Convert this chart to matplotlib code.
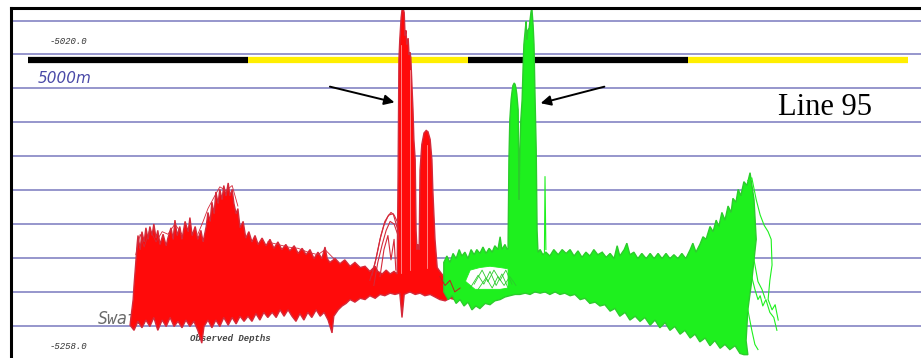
import numpy as np
import matplotlib.pyplot as plt
from matplotlib.lines import Line2D

# Port swath (red): along-track distance in km, depth in m
red_top_km = [2.34, 2.39, 2.41, 2.45, 2.48, 2.50, 2.55, 2.59, 2.64, 2.68, 2.73, 2.77, 2.82, 2.86,
              2.91, 2.95, 3.00, 3.07, 3.14, 3.18, 3.25, 3.30, 3.34, 3.39, 3.45, 3.50, 3.57, 3.64,
              3.68, 3.73, 3.80, 3.86, 3.93, 3.98, 4.05, 4.09, 4.14, 4.18, 4.23, 4.27, 4.32, 4.36,
              4.41, 4.45, 4.50, 4.55, 4.59, 4.64, 4.68, 4.73, 4.77, 4.82, 4.89, 4.95, 5.02, 5.09,
              5.16, 5.23, 5.32, 5.41, 5.50, 5.59, 5.68, 5.77, 5.86, 5.95, 6.05, 6.14, 6.23, 6.32,
              6.41, 6.50, 6.59, 6.68, 6.75, 6.80, 6.86, 6.98, 7.09, 7.20, 7.32, 7.43, 7.55, 7.66,
              7.77, 7.89, 7.95, 8.05, 8.14, 8.23, 8.32, 8.39, 8.41, 8.43, 8.45, 8.48, 8.50, 8.52,
              8.55, 8.57, 8.59, 8.61, 8.64, 8.66, 8.68, 8.70, 8.73, 8.75, 8.77, 8.80, 8.82, 8.84,
              8.86, 8.89, 8.91, 8.95, 9.00, 9.05, 9.09, 9.14, 9.18, 9.20, 9.25, 9.30, 9.36, 9.45,
              9.55, 9.64, 9.70, 9.77, 9.82]
red_top_z = [-5235, -5221, -5210, -5192, -5178, -5171, -5182, -5168, -5176, -5165, -5174, -5164,
             -5171, -5162, -5173, -5167, -5178, -5170, -5179, -5173, -5165, -5174, -5159, -5171,
             -5164, -5174, -5160, -5168, -5157, -5171, -5164, -5174, -5167, -5176, -5164, -5153,
             -5160, -5145, -5154, -5137, -5146, -5135, -5143, -5132, -5140, -5130, -5140, -5135,
             -5146, -5154, -5150, -5165, -5160, -5173, -5168, -5176, -5171, -5178, -5173, -5179,
             -5174, -5181, -5176, -5182, -5178, -5183, -5179, -5185, -5181, -5186, -5182, -5189,
             -5184, -5189, -5180, -5189, -5192, -5189, -5193, -5190, -5195, -5192, -5196, -5195,
             -5199, -5195, -5199, -5201, -5198, -5201, -5199, -5201, -5128, -5034, -5018, -5001,
             -4995, -4993, -4997, -5015, -5011, -5022, -5017, -5030, -5028, -5032, -5057, -5073,
             -5096, -5112, -5167, -5182, -5178, -5182, -5120, -5100, -5091, -5089, -5090, -5096,
             -5112, -5135, -5174, -5196, -5199, -5203, -5204, -5207, -5212, -5217, -5221]
red_bot_km = [2.32, 2.41, 2.50, 2.59, 2.68, 2.77, 2.86, 2.95, 3.05, 3.14, 3.23, 3.32, 3.41, 3.50,
              3.59, 3.68, 3.77, 3.86, 3.95, 4.00, 4.09, 4.18, 4.27, 4.36, 4.45, 4.55, 4.64, 4.73,
              4.82, 4.91, 5.00, 5.09, 5.18, 5.27, 5.36, 5.45, 5.55, 5.64, 5.73, 5.82, 5.91, 6.00,
              6.09, 6.18, 6.27, 6.36, 6.45, 6.55, 6.64, 6.73, 6.82, 6.91, 6.95, 7.05, 7.14, 7.23,
              7.32, 7.43, 7.55, 7.66, 7.77, 7.89, 8.00, 8.11, 8.23, 8.34, 8.45, 8.50, 8.55, 8.68,
              8.80, 8.91, 9.02, 9.14, 9.25, 9.36, 9.48, 9.59, 9.70, 9.82]
red_bot_z = [-5241, -5245, -5238, -5243, -5237, -5242, -5235, -5245, -5237, -5242, -5235, -5242,
             -5238, -5243, -5237, -5242, -5238, -5245, -5255, -5242, -5237, -5243, -5237, -5242,
             -5235, -5241, -5235, -5240, -5234, -5238, -5234, -5238, -5232, -5237, -5231, -5235,
             -5231, -5235, -5229, -5234, -5229, -5234, -5238, -5232, -5237, -5231, -5235, -5229,
             -5234, -5231, -5237, -5247, -5234, -5229, -5226, -5224, -5221, -5223, -5220, -5221,
             -5218, -5220, -5217, -5218, -5216, -5217, -5216, -5235, -5217, -5215, -5217, -5216,
             -5218, -5217, -5219, -5221, -5222, -5220, -5221, -5221]

# single pings over the mound west of the main pinnacle
hump_km = [[7.77, 7.89, 8.00, 8.09, 8.18, 8.25, 8.32, 8.39, 8.43],
           [7.86, 7.95, 8.05, 8.14, 8.23, 8.32, 8.41],
           [7.82, 7.93, 8.02, 8.11, 8.20, 8.30, 8.39],
           [8.00, 8.09, 8.18, 8.25, 8.32, 8.36]]
hump_z = [[-5206, -5192, -5174, -5163, -5156, -5153, -5155, -5160, -5174],
          [-5210, -5192, -5178, -5167, -5160, -5162, -5171],
          [-5202, -5186, -5171, -5160, -5155, -5154, -5165],
          [-5203, -5182, -5171, -5190, -5174, -5198]]

# stray pings sticking out of the western red mass
red_stray_km = [[2.45, 2.55, 2.64, 2.77, 2.91, 3.05, 3.18, 3.34, 3.50],
                [3.86, 3.98, 4.09, 4.23, 4.36, 4.50, 4.64, 4.77],
                [5.45, 5.68, 5.91, 6.14, 6.36, 6.59, 6.75, 6.98]]
red_stray_z = [[-5186, -5170, -5180, -5166, -5176, -5168, -5170, -5162, -5170],
               [-5170, -5160, -5150, -5141, -5133, -5136, -5132, -5148],
               [-5176, -5178, -5180, -5181, -5184, -5186, -5182, -5190]]

# Starboard swath (green)
grn_top_km = [9.45, 9.52, 9.59, 9.66, 9.73, 9.80, 9.86, 9.93, 10.00, 10.07, 10.14, 10.20, 10.27,
              10.34, 10.41, 10.48, 10.55, 10.61, 10.68, 10.73, 10.77, 10.84, 10.89, 10.91, 10.93,
              10.95, 10.98, 11.00, 11.02, 11.05, 11.07, 11.09, 11.11, 11.14, 11.16, 11.18, 11.20,
              11.23, 11.25, 11.27, 11.30, 11.32, 11.34, 11.36, 11.39, 11.41, 11.43, 11.45, 11.48,
              11.50, 11.52, 11.55, 11.57, 11.59, 11.64, 11.70, 11.77, 11.86, 11.95, 12.05, 12.14,
              12.23, 12.32, 12.41, 12.50, 12.59, 12.68, 12.77, 12.86, 12.95, 13.05, 13.14, 13.23,
              13.32, 13.39, 13.45, 13.55, 13.61, 13.68, 13.77, 13.86, 13.95, 14.05, 14.14, 14.23,
              14.32, 14.41, 14.50, 14.59, 14.68, 14.77, 14.86, 14.95, 15.05, 15.11, 15.18, 15.27,
              15.34, 15.41, 15.50, 15.57, 15.64, 15.70, 15.77, 15.84, 15.91, 15.98, 16.02, 16.09,
              16.14, 16.20, 16.27, 16.34, 16.41, 16.50, 16.55, 16.45, 16.36, 16.32, 16.36]
grn_top_z = [-5192, -5187, -5192, -5185, -5189, -5182, -5187, -5184, -5189, -5182, -5186, -5182,
             -5185, -5180, -5185, -5181, -5184, -5179, -5182, -5172, -5182, -5178, -5182, -5181,
             -5112, -5081, -5065, -5059, -5054, -5052, -5053, -5056, -5061, -5073, -5143, -5104,
             -5081, -5065, -5042, -5022, -5011, -5004, -5018, -5011, -5009, -5003, -4997, -4993,
             -5007, -5022, -5057, -5104, -5167, -5184, -5182, -5186, -5184, -5187, -5182, -5186,
             -5182, -5185, -5182, -5187, -5183, -5188, -5184, -5187, -5182, -5186, -5184, -5188,
             -5185, -5189, -5179, -5187, -5182, -5177, -5186, -5184, -5189, -5185, -5189, -5185,
             -5189, -5185, -5189, -5185, -5189, -5186, -5189, -5185, -5189, -5182, -5177, -5184,
             -5178, -5172, -5174, -5164, -5168, -5159, -5164, -5153, -5159, -5148, -5153, -5142,
             -5145, -5135, -5140, -5129, -5132, -5122, -5143, -5174, -5206, -5229, -5253, -5264]
grn_bot_km = [9.45, 9.55, 9.64, 9.73, 9.82, 9.91, 10.00, 10.09, 10.18, 10.27, 10.39, 10.50, 10.61,
              10.73, 10.84, 10.95, 11.07, 11.18, 11.30, 11.41, 11.52, 11.64, 11.75, 11.86, 11.98,
              12.09, 12.20, 12.32, 12.43, 12.55, 12.66, 12.77, 12.89, 13.00, 13.11, 13.23, 13.34,
              13.45, 13.57, 13.68, 13.80, 13.91, 14.02, 14.14, 14.25, 14.36, 14.48, 14.59, 14.70,
              14.82, 14.93, 15.05, 15.16, 15.27, 15.39, 15.50, 15.61, 15.73, 15.84, 15.95, 16.07,
              16.18, 16.27]
grn_bot_z = [-5215, -5221, -5218, -5224, -5221, -5226, -5223, -5229, -5226, -5228, -5224, -5225,
             -5222, -5221, -5219, -5218, -5217, -5217, -5216, -5217, -5215, -5216, -5215, -5217,
             -5215, -5217, -5216, -5218, -5217, -5221, -5220, -5224, -5223, -5226, -5225, -5230,
             -5228, -5234, -5231, -5237, -5234, -5238, -5235, -5241, -5237, -5243, -5239, -5245,
             -5242, -5248, -5245, -5251, -5248, -5254, -5251, -5257, -5253, -5259, -5256, -5260,
             -5257, -5263, -5264]

# gap between the upper and lower beams under the eastern pinnacles
gap_km = [9.95, 10.05, 10.27, 10.50, 10.73, 10.91, 10.91, 10.73, 10.50, 10.16, 9.95]
gap_z = [-5206, -5198, -5196, -5195, -5196, -5197, -5212, -5213, -5213, -5213, -5207]
gap_lines_km = [[10.05, 10.23, 10.36, 10.50, 10.64, 10.77, 10.91],
                [10.14, 10.32, 10.45, 10.59, 10.73, 10.86, 11.00],
                [10.23, 10.41, 10.55, 10.68, 10.82, 10.95, 11.09]]
gap_lines_z = [[-5212, -5202, -5209, -5199, -5210, -5201, -5212],
               [-5209, -5198, -5207, -5198, -5206, -5198, -5209],
               [-5213, -5204, -5212, -5203, -5210, -5203, -5210]]

spike_km = [11.73, 11.75, 11.77]
spike_z = [-5215, -5125, -5182]

# loose outer-beam pings at the east end
edge_km = [[16.36, 16.45, 16.55, 16.64, 16.73, 16.82, 16.89, 16.91, 16.86, 16.82, 16.91, 16.98, 17.05],
           [16.18, 16.32, 16.41, 16.52, 16.59, 16.64, 16.70, 16.77, 16.86, 16.95, 17.02],
           [16.07, 16.23, 16.36, 16.45, 16.52, 16.59],
           [16.30, 16.41, 16.50, 16.59, 16.68, 16.75]]
edge_z = [[-5128, -5126, -5143, -5155, -5163, -5168, -5174, -5194, -5206, -5221, -5229, -5225, -5237],
          [-5167, -5182, -5198, -5213, -5221, -5218, -5226, -5221, -5231, -5235, -5245],
          [-5182, -5206, -5229, -5245, -5256, -5260],
          [-5143, -5174, -5190, -5207, -5213, -5220]]

red_over_km = [9.36, 9.48, 9.59, 9.70, 9.82]
red_over_z = [-5203, -5210, -5206, -5215, -5212]

# scale bar segments (km) and depth grid
bar_km = [0, 5, 10, 15, 20]
bar_colors = ['black', '#ffee00', 'black', '#ffee00']
bar_depth = -5034
grid_depths = -5003.2 - 26.53 * np.arange(10)

RED = '#ff0a0a'
RED_EDGE = '#d42a3a'
GRN = '#1ef01e'
GRN_EDGE = '#2ccc2c'
GRID = '#8484c4'

fig = plt.figure(figsize=(9.21, 3.58), dpi=100)
ax = fig.add_axes([0, 0, 1, 1])
ax.set_xlim(-0.636, 20.295)
ax.set_ylim(-5266.6, -4987.2)
ax.axis('off')

for d in grid_depths:
    ax.axhline(d, xmin=0.012, xmax=1, color=GRID, lw=1.2, zorder=1)

for i in range(4):
    ax.plot(bar_km[i:i + 2], [bar_depth, bar_depth], color=bar_colors[i], lw=4.5,
            solid_capstyle='butt', zorder=2)

ax.text(0.106, 0.109, 'Swath', transform=ax.transAxes, fontsize=12, style='italic',
        color='#6a6a6a', va='center', family='DejaVu Sans Mono', zorder=1.5)
ax.text(0.206, 0.054, 'Observed Depths', transform=ax.transAxes, fontsize=6.5, style='italic',
        weight='bold', color='#444444', va='center', family='Liberation Mono', zorder=1.5)

# red swath
xs = np.concatenate([red_top_km, red_bot_km[::-1]])
zs = np.concatenate([red_top_z, red_bot_z[::-1]])
ax.fill(xs, zs, facecolor=RED, edgecolor=RED_EDGE, lw=1.0, joinstyle='miter', zorder=3)
for sx, sz in zip(red_stray_km, red_stray_z):
    ax.plot(sx, sz, color=RED_EDGE, lw=0.6, zorder=3.1)
for hx, hz in zip(hump_km, hump_z):
    ax.plot(hx, hz, color=RED_EDGE, lw=0.8, zorder=3)
ax.plot([8.48, 8.48], [-5022, -5200], color='#ffb0b0', lw=0.5, zorder=3.1)
ax.plot([8.68, 8.68], [-5042, -5198], color='#ffb0b0', lw=0.5, zorder=3.1)
ax.plot([9.07, 9.07], [-5100, -5196], color='#ffb0b0', lw=0.5, zorder=3.1)

# green swath
xs = np.concatenate([grn_top_km, grn_bot_km[::-1]])
zs = np.concatenate([grn_top_z, grn_bot_z[::-1]])
ax.fill(xs, zs, facecolor=GRN, edgecolor=GRN_EDGE, lw=1.0, joinstyle='miter', zorder=4)
ax.fill(gap_km, gap_z, facecolor='white', edgecolor=GRN, lw=0.6, zorder=4.1)
for gx, gz in zip(gap_lines_km, gap_lines_z):
    ax.plot(gx, gz, color=GRN_EDGE, lw=0.6, zorder=4.2)
ax.plot(spike_km, spike_z, color=GRN, lw=0.8, zorder=4)
for ex, ez in zip(edge_km, edge_z):
    ax.plot(ex, ez, color=GRN, lw=0.8, zorder=4)
ax.plot(red_over_km, red_over_z, color='#c02020', lw=0.7, zorder=4.3)

# annotation arrows
ax.annotate('', xy=(8.39, -5067.6), xytext=(6.80, -5054.3),
            arrowprops=dict(arrowstyle='-|>', color='black', lw=1.4, mutation_scale=15), zorder=6)
ax.annotate('', xy=(11.59, -5068.3), xytext=(13.16, -5054.3),
            arrowprops=dict(arrowstyle='-|>', color='black', lw=1.4, mutation_scale=15), zorder=6)

ax.text(0.054, 0.885, '-5020.0', transform=ax.transAxes, fontsize=6.5, style='italic',
        color='#333333', va='center', family='Liberation Mono')
ax.text(0.054, 0.031, '-5258.0', transform=ax.transAxes, fontsize=6.5, style='italic',
        color='#333333', va='center', family='Liberation Mono')
ax.text(0.041, 0.782, '5000m', transform=ax.transAxes, fontsize=11, style='italic',
        color='#4a4aa8', va='center', family='DejaVu Sans')
ax.text(0.845, 0.70, 'Line 95', transform=ax.transAxes, fontsize=22,
        color='black', va='center', family='Liberation Serif')

# window frame on the left and top
fig.add_artist(Line2D([0.012, 1], [0.978, 0.978], color='black', lw=2.2))
fig.add_artist(Line2D([0.012, 0.012], [0, 0.978], color='black', lw=2.2))

fig.savefig('out.png', dpi=100, facecolor='white')
